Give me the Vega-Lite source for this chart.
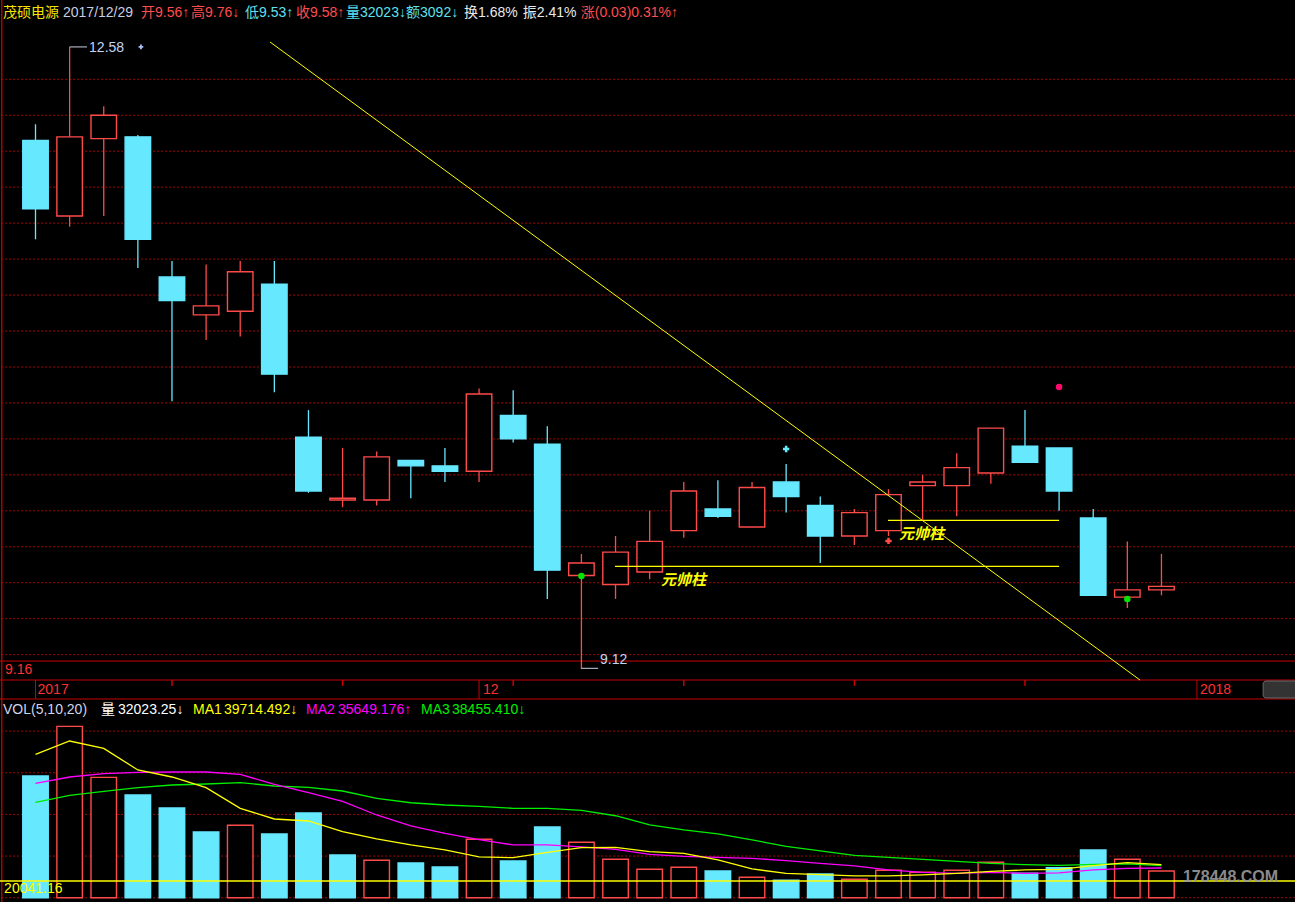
{
  "$schema": "https://vega.github.io/schema/vega-lite/v6.json",
  "width": 1295,
  "height": 902,
  "autosize": {"type": "none"},
  "padding": 0,
  "background": "#000000",
  "config": {
    "view": {"stroke": null},
    "axis": {"disable": true},
    "scale": {"continuousPadding": 0},
    "text": {"font": "Liberation Sans, Noto Sans CJK SC, sans-serif", "fontSize": 14, "align": "left", "baseline": "middle"}
  },
  "datasets": {
    "k": [
      {"i": 0, "date": "2017-11-14", "o": 12.06, "h": 12.15, "l": 11.51, "c": 11.68, "vol": 146100, "vdir": "down", "ma5": 172100, "ma10": 137300, "ma20": 114500},
      {"i": 1, "date": "2017-11-15", "o": 11.64, "h": 12.58, "l": 11.58, "c": 12.08, "vol": 205700, "vdir": "up", "ma5": 188100, "ma10": 144900, "ma20": 122900},
      {"i": 2, "date": "2017-11-16", "o": 12.07, "h": 12.25, "l": 11.64, "c": 12.20, "vol": 144500, "vdir": "up", "ma5": 179300, "ma10": 148900, "ma20": 127700},
      {"i": 3, "date": "2017-11-17", "o": 12.08, "h": 12.09, "l": 11.35, "c": 11.51, "vol": 123300, "vdir": "down", "ma5": 153300, "ma10": 150500, "ma20": 132100},
      {"i": 4, "date": "2017-11-20", "o": 11.30, "h": 11.39, "l": 10.61, "c": 11.17, "vol": 107700, "vdir": "down", "ma5": 144900, "ma10": 150900, "ma20": 135300},
      {"i": 5, "date": "2017-11-21", "o": 11.09, "h": 11.37, "l": 10.95, "c": 11.14, "vol": 78900, "vdir": "down", "ma5": 132100, "ma10": 150900, "ma20": 136500},
      {"i": 6, "date": "2017-11-22", "o": 11.11, "h": 11.39, "l": 10.97, "c": 11.33, "vol": 86900, "vdir": "up", "ma5": 107300, "ma10": 148100, "ma20": 138100},
      {"i": 7, "date": "2017-11-23", "o": 11.26, "h": 11.39, "l": 10.66, "c": 10.76, "vol": 76500, "vdir": "down", "ma5": 94500, "ma10": 136100, "ma20": 134100},
      {"i": 8, "date": "2017-11-24", "o": 10.41, "h": 10.56, "l": 10.10, "c": 10.11, "vol": 101700, "vdir": "down", "ma5": 92100, "ma10": 126100, "ma20": 132500},
      {"i": 9, "date": "2017-11-27", "o": 10.06, "h": 10.35, "l": 10.02, "c": 10.07, "vol": 51200, "vdir": "down", "ma5": 79200, "ma10": 115700, "ma20": 128100},
      {"i": 10, "date": "2017-11-28", "o": 10.06, "h": 10.33, "l": 10.03, "c": 10.30, "vol": 44900, "vdir": "up", "ma5": 70500, "ma10": 99300, "ma20": 119300},
      {"i": 11, "date": "2017-11-29", "o": 10.28, "h": 10.28, "l": 10.07, "c": 10.25, "vol": 41700, "vdir": "down", "ma5": 63300, "ma10": 86100, "ma20": 114000},
      {"i": 12, "date": "2017-11-30", "o": 10.25, "h": 10.35, "l": 10.16, "c": 10.22, "vol": 36800, "vdir": "down", "ma5": 57300, "ma10": 77300, "ma20": 111300},
      {"i": 13, "date": "2017-12-01", "o": 10.22, "h": 10.68, "l": 10.16, "c": 10.65, "vol": 70100, "vdir": "up", "ma5": 48900, "ma10": 69600, "ma20": 109700},
      {"i": 14, "date": "2017-12-04", "o": 10.53, "h": 10.67, "l": 10.38, "c": 10.40, "vol": 44100, "vdir": "down", "ma5": 48000, "ma10": 63300, "ma20": 107300},
      {"i": 15, "date": "2017-12-05", "o": 10.37, "h": 10.47, "l": 9.51, "c": 9.67, "vol": 84900, "vdir": "down", "ma5": 54500, "ma10": 63300, "ma20": 107300},
      {"i": 16, "date": "2017-12-06", "o": 9.64, "h": 9.76, "l": 9.12, "c": 9.71, "vol": 66500, "vdir": "up", "ma5": 60000, "ma10": 60900, "ma20": 104900},
      {"i": 17, "date": "2017-12-07", "o": 9.59, "h": 9.86, "l": 9.51, "c": 9.77, "vol": 46100, "vdir": "up", "ma5": 60500, "ma10": 58100, "ma20": 98400},
      {"i": 18, "date": "2017-12-08", "o": 9.66, "h": 10.00, "l": 9.62, "c": 9.83, "vol": 34100, "vdir": "up", "ma5": 55200, "ma10": 52100, "ma20": 87300},
      {"i": 19, "date": "2017-12-11", "o": 9.89, "h": 10.16, "l": 9.85, "c": 10.11, "vol": 36500, "vdir": "up", "ma5": 53300, "ma10": 49700, "ma20": 81300},
      {"i": 20, "date": "2017-12-12", "o": 10.01, "h": 10.17, "l": 9.96, "c": 9.97, "vol": 32100, "vdir": "down", "ma5": 45300, "ma10": 48500, "ma20": 76500},
      {"i": 21, "date": "2017-12-13", "o": 9.91, "h": 10.16, "l": 9.91, "c": 10.13, "vol": 24500, "vdir": "up", "ma5": 34500, "ma10": 47300, "ma20": 69300},
      {"i": 22, "date": "2017-12-14", "o": 10.16, "h": 10.26, "l": 9.99, "c": 10.08, "vol": 20900, "vdir": "down", "ma5": 29300, "ma10": 44400, "ma20": 61700},
      {"i": 23, "date": "2017-12-15", "o": 10.03, "h": 10.08, "l": 9.71, "c": 9.86, "vol": 28400, "vdir": "down", "ma5": 27600, "ma10": 41300, "ma20": 56100},
      {"i": 24, "date": "2017-12-18", "o": 9.86, "h": 10.01, "l": 9.81, "c": 9.99, "vol": 22100, "vdir": "up", "ma5": 26100, "ma10": 38300, "ma20": 50700},
      {"i": 25, "date": "2017-12-19", "o": 9.89, "h": 10.12, "l": 9.86, "c": 10.09, "vol": 32900, "vdir": "up", "ma5": 26100, "ma10": 33300, "ma20": 48500},
      {"i": 26, "date": "2017-12-20", "o": 10.14, "h": 10.20, "l": 9.95, "c": 10.16, "vol": 30500, "vdir": "up", "ma5": 27300, "ma10": 30500, "ma20": 46100},
      {"i": 27, "date": "2017-12-21", "o": 10.14, "h": 10.32, "l": 9.97, "c": 10.24, "vol": 32900, "vdir": "up", "ma5": 29300, "ma10": 29300, "ma20": 43700},
      {"i": 28, "date": "2017-12-22", "o": 10.21, "h": 10.46, "l": 10.15, "c": 10.46, "vol": 42500, "vdir": "up", "ma5": 31700, "ma10": 30500, "ma20": 41300},
      {"i": 29, "date": "2017-12-25", "o": 10.36, "h": 10.56, "l": 10.27, "c": 10.27, "vol": 29300, "vdir": "down", "ma5": 33300, "ma10": 29300, "ma20": 39700},
      {"i": 30, "date": "2017-12-26", "o": 10.35, "h": 10.35, "l": 10.00, "c": 10.11, "vol": 36000, "vdir": "down", "ma5": 34100, "ma10": 29700, "ma20": 38900},
      {"i": 31, "date": "2017-12-27", "o": 9.96, "h": 10.01, "l": 9.53, "c": 9.53, "vol": 57200, "vdir": "down", "ma5": 38500, "ma10": 33300, "ma20": 40100},
      {"i": 32, "date": "2017-12-28", "o": 9.52, "h": 9.83, "l": 9.46, "c": 9.56, "vol": 46100, "vdir": "up", "ma5": 42100, "ma10": 35300, "ma20": 40500},
      {"i": 33, "date": "2017-12-29", "o": 9.56, "h": 9.76, "l": 9.53, "c": 9.58, "vol": 32023.25, "vdir": "up", "ma5": 39714.492, "ma10": 35649.176, "ma20": 38455.41}
    ]
  },
  "data": {"values": [{}]},
  "resolve": {"scale": {"y": "independent"}},
  "layer": [
    {
      "layer": [
        {
          "data": {"values": [{"p": 12.4}, {"p": 12.2}, {"p": 12.0}, {"p": 11.8}, {"p": 11.6}, {"p": 11.4}, {"p": 11.2}, {"p": 11.0}, {"p": 10.8}, {"p": 10.6}, {"p": 10.4}, {"p": 10.2}, {"p": 10.0}, {"p": 9.8}, {"p": 9.6}, {"p": 9.4}, {"p": 9.2}]},
          "mark": {"type": "rule", "color": "#a40000", "strokeWidth": 1, "strokeDash": [2, 2]},
          "encoding": {"y": {"field": "p", "type": "quantitative", "scale": {"domain": [7.8243, 12.841], "nice": false, "zero": false, "padding": 0}}}
        },
        {
          "data": {"values": [{"p": 9.1643}, {"p": 9.059}, {"p": 8.9534}]},
          "mark": {"type": "rule", "color": "#c80000", "strokeWidth": 1},
          "encoding": {"y": {"field": "p", "type": "quantitative", "scale": {"domain": [7.8243, 12.841], "nice": false, "zero": false, "padding": 0}}}
        },
        {
          "mark": {"type": "rule", "color": "#b00000", "strokeWidth": 1.5},
          "encoding": {"x": {"datum": -0.99, "type": "quantitative", "scale": {"domain": [-1.0405, 36.914], "nice": false, "zero": false, "padding": 0}}}
        },
        {
          "data": {"values": [{"t": 4}, {"t": 9}, {"t": 14}, {"t": 19}, {"t": 24}, {"t": 29}]},
          "mark": {"type": "rule", "color": "#c80000", "strokeWidth": 1.5},
          "encoding": {
            "x": {"field": "t", "type": "quantitative", "scale": {"domain": [-1.0405, 36.914], "nice": false, "zero": false, "padding": 0}},
            "y": {"datum": 9.059, "type": "quantitative", "scale": {"domain": [7.8243, 12.841], "nice": false, "zero": false, "padding": 0}},
            "y2": {"datum": 9.026}
          }
        },
        {
          "data": {"values": [{"t": 0}, {"t": 13}, {"t": 34.04}]},
          "mark": {"type": "rule", "color": "#c80000", "strokeWidth": 1},
          "encoding": {
            "x": {"field": "t", "type": "quantitative", "scale": {"domain": [-1.0405, 36.914], "nice": false, "zero": false, "padding": 0}},
            "y": {"datum": 9.059, "type": "quantitative", "scale": {"domain": [7.8243, 12.841], "nice": false, "zero": false, "padding": 0}},
            "y2": {"datum": 8.9534}
          }
        },
        {
          "mark": {"type": "rect", "fill": "#333333", "stroke": "#6a6a6a", "strokeWidth": 1, "cornerRadius": 3},
          "encoding": {
            "x": {"datum": 35.98, "type": "quantitative", "scale": {"domain": [-1.0405, 36.914], "nice": false, "zero": false, "padding": 0}},
            "x2": {"datum": 37.2},
            "y": {"datum": 9.0534, "type": "quantitative", "scale": {"domain": [7.8243, 12.841], "nice": false, "zero": false, "padding": 0}},
            "y2": {"datum": 8.959}
          }
        },
        {
          "data": {"name": "k"},
          "mark": {"type": "rule", "strokeWidth": 1.3},
          "encoding": {
            "x": {"field": "i", "type": "quantitative", "scale": {"domain": [-1.0405, 36.914], "nice": false, "zero": false, "padding": 0}},
            "y": {"field": "l", "type": "quantitative", "scale": {"domain": [7.8243, 12.841], "nice": false, "zero": false, "padding": 0}},
            "y2": {"field": "h"},
            "color": {"condition": {"test": "datum.c >= datum.o", "value": "#ff4a4a"}, "value": "#66e8ff"}
          }
        },
        {
          "data": {"name": "k"},
          "mark": {"type": "bar", "width": 25.5, "strokeWidth": 1.4},
          "encoding": {
            "x": {"field": "i", "type": "quantitative", "scale": {"domain": [-1.0405, 36.914], "nice": false, "zero": false, "padding": 0}},
            "y": {"field": "o", "type": "quantitative", "scale": {"domain": [7.8243, 12.841], "nice": false, "zero": false, "padding": 0}},
            "y2": {"field": "c"},
            "fill": {"condition": {"test": "datum.c >= datum.o", "value": "#000000"}, "value": "#66e8ff"},
            "stroke": {"condition": {"test": "datum.c >= datum.o", "value": "#ff4a4a"}, "value": "#66e8ff"}
          }
        },
        {
          "mark": {"type": "rule", "color": "#c8d0e0", "strokeWidth": 1},
          "encoding": {
            "x": {"datum": 1.0, "type": "quantitative", "scale": {"domain": [-1.0405, 36.914], "nice": false, "zero": false, "padding": 0}},
            "x2": {"datum": 1.51},
            "y": {"datum": 12.58, "type": "quantitative", "scale": {"domain": [7.8243, 12.841], "nice": false, "zero": false, "padding": 0}}
          }
        },
        {
          "mark": {"type": "text", "text": "12.58", "color": "#c4d4f4", "fontSize": 14},
          "encoding": {
            "x": {"datum": 1.57, "type": "quantitative", "scale": {"domain": [-1.0405, 36.914], "nice": false, "zero": false, "padding": 0}},
            "y": {"datum": 12.575, "type": "quantitative", "scale": {"domain": [7.8243, 12.841], "nice": false, "zero": false, "padding": 0}}
          }
        },
        {
          "mark": {"type": "point", "shape": "cross", "filled": true, "size": 22, "color": "#a8bcf0", "opacity": 1},
          "encoding": {
            "x": {"datum": 3.09, "type": "quantitative", "scale": {"domain": [-1.0405, 36.914], "nice": false, "zero": false, "padding": 0}},
            "y": {"datum": 12.58, "type": "quantitative", "scale": {"domain": [7.8243, 12.841], "nice": false, "zero": false, "padding": 0}}
          }
        },
        {
          "mark": {"type": "rule", "color": "#c8d0e0", "strokeWidth": 1},
          "encoding": {
            "x": {"datum": 16.0, "type": "quantitative", "scale": {"domain": [-1.0405, 36.914], "nice": false, "zero": false, "padding": 0}},
            "x2": {"datum": 16.49},
            "y": {"datum": 9.124, "type": "quantitative", "scale": {"domain": [7.8243, 12.841], "nice": false, "zero": false, "padding": 0}}
          }
        },
        {
          "mark": {"type": "text", "text": "9.12", "color": "#c4d4f4", "fontSize": 14},
          "encoding": {
            "x": {"datum": 16.545, "type": "quantitative", "scale": {"domain": [-1.0405, 36.914], "nice": false, "zero": false, "padding": 0}},
            "y": {"datum": 9.17, "type": "quantitative", "scale": {"domain": [7.8243, 12.841], "nice": false, "zero": false, "padding": 0}}
          }
        },
        {
          "data": {"values": [{"tx": 6.873, "tp": 12.6075}, {"tx": 32.37, "tp": 9.059}]},
          "mark": {"type": "line", "color": "#ffff00", "strokeWidth": 1},
          "encoding": {
            "x": {"field": "tx", "type": "quantitative", "scale": {"domain": [-1.0405, 36.914], "nice": false, "zero": false, "padding": 0}},
            "y": {"field": "tp", "type": "quantitative", "scale": {"domain": [7.8243, 12.841], "nice": false, "zero": false, "padding": 0}}
          }
        },
        {
          "data": {"values": [{"x1": 16.984, "x2": 30.0, "lp": 9.6914}, {"x1": 24.985, "x2": 30.0, "lp": 9.9473}]},
          "mark": {"type": "rule", "color": "#ffff00", "strokeWidth": 1.3},
          "encoding": {
            "x": {"field": "x1", "type": "quantitative", "scale": {"domain": [-1.0405, 36.914], "nice": false, "zero": false, "padding": 0}},
            "x2": {"field": "x2"},
            "y": {"field": "lp", "type": "quantitative", "scale": {"domain": [7.8243, 12.841], "nice": false, "zero": false, "padding": 0}}
          }
        },
        {
          "mark": {"type": "text", "text": "元帅柱", "color": "#ffff00", "fontSize": 15, "fontWeight": "bold", "fontStyle": "italic", "font": "Noto Sans CJK SC"},
          "encoding": {
            "x": {"datum": 18.332, "type": "quantitative", "scale": {"domain": [-1.0405, 36.914], "nice": false, "zero": false, "padding": 0}},
            "y": {"datum": 9.6152, "type": "quantitative", "scale": {"domain": [7.8243, 12.841], "nice": false, "zero": false, "padding": 0}}
          }
        },
        {
          "mark": {"type": "text", "text": "元帅柱", "color": "#ffff00", "fontSize": 15, "fontWeight": "bold", "fontStyle": "italic", "font": "Noto Sans CJK SC"},
          "encoding": {
            "x": {"datum": 25.308, "type": "quantitative", "scale": {"domain": [-1.0405, 36.914], "nice": false, "zero": false, "padding": 0}},
            "y": {"datum": 9.8711, "type": "quantitative", "scale": {"domain": [7.8243, 12.841], "nice": false, "zero": false, "padding": 0}}
          }
        },
        {
          "mark": {"type": "point", "shape": "circle", "filled": true, "size": 42, "color": "#ff0a6c", "opacity": 1},
          "encoding": {
            "x": {"datum": 30, "type": "quantitative", "scale": {"domain": [-1.0405, 36.914], "nice": false, "zero": false, "padding": 0}},
            "y": {"datum": 10.6886, "type": "quantitative", "scale": {"domain": [7.8243, 12.841], "nice": false, "zero": false, "padding": 0}}
          }
        },
        {
          "data": {"values": [{"mi": 16, "mp": 9.6375}, {"mi": 32, "mp": 9.5096}]},
          "mark": {"type": "point", "shape": "circle", "filled": true, "size": 42, "color": "#00e600", "opacity": 1},
          "encoding": {
            "x": {"field": "mi", "type": "quantitative", "scale": {"domain": [-1.0405, 36.914], "nice": false, "zero": false, "padding": 0}},
            "y": {"field": "mp", "type": "quantitative", "scale": {"domain": [7.8243, 12.841], "nice": false, "zero": false, "padding": 0}}
          }
        },
        {
          "mark": {"type": "point", "shape": "cross", "filled": true, "size": 40, "color": "#66e8ff", "opacity": 1},
          "encoding": {
            "x": {"datum": 22, "type": "quantitative", "scale": {"domain": [-1.0405, 36.914], "nice": false, "zero": false, "padding": 0}},
            "y": {"datum": 10.3437, "type": "quantitative", "scale": {"domain": [7.8243, 12.841], "nice": false, "zero": false, "padding": 0}}
          }
        },
        {
          "mark": {"type": "point", "shape": "cross", "filled": true, "size": 40, "color": "#ff4a4a", "opacity": 1},
          "encoding": {
            "x": {"datum": 25, "type": "quantitative", "scale": {"domain": [-1.0405, 36.914], "nice": false, "zero": false, "padding": 0}},
            "y": {"datum": 9.8327, "type": "quantitative", "scale": {"domain": [7.8243, 12.841], "nice": false, "zero": false, "padding": 0}}
          }
        },
        {"mark": {"type": "text", "text": "9.16", "color": "#ff3030"}, "encoding": {"x": {"datum": -0.894, "type": "quantitative", "scale": {"domain": [-1.0405, 36.914], "nice": false, "zero": false, "padding": 0}}, "y": {"datum": 9.112, "type": "quantitative", "scale": {"domain": [7.8243, 12.841], "nice": false, "zero": false, "padding": 0}}}},
        {"mark": {"type": "text", "text": "2017", "color": "#ff3030"}, "encoding": {"x": {"datum": 0.06, "type": "quantitative", "scale": {"domain": [-1.0405, 36.914], "nice": false, "zero": false, "padding": 0}}, "y": {"datum": 9.006, "type": "quantitative", "scale": {"domain": [7.8243, 12.841], "nice": false, "zero": false, "padding": 0}}}},
        {"mark": {"type": "text", "text": "12", "color": "#ff3030"}, "encoding": {"x": {"datum": 13.115, "type": "quantitative", "scale": {"domain": [-1.0405, 36.914], "nice": false, "zero": false, "padding": 0}}, "y": {"datum": 9.006, "type": "quantitative", "scale": {"domain": [7.8243, 12.841], "nice": false, "zero": false, "padding": 0}}}},
        {"mark": {"type": "text", "text": "2018", "color": "#ff3030"}, "encoding": {"x": {"datum": 34.13, "type": "quantitative", "scale": {"domain": [-1.0405, 36.914], "nice": false, "zero": false, "padding": 0}}, "y": {"datum": 9.006, "type": "quantitative", "scale": {"domain": [7.8243, 12.841], "nice": false, "zero": false, "padding": 0}}}},
        {"mark": {"type": "text", "text": "茂硕电源", "color": "#f5e400"}, "encoding": {"x": {"datum": -0.9525, "type": "quantitative", "scale": {"domain": [-1.0405, 36.914], "nice": false, "zero": false, "padding": 0}}, "y": {"datum": 12.769, "type": "quantitative", "scale": {"domain": [7.8243, 12.841], "nice": false, "zero": false, "padding": 0}}}},
        {"mark": {"type": "text", "text": "2017/12/29", "color": "#c8cde0"}, "encoding": {"x": {"datum": 0.806, "type": "quantitative", "scale": {"domain": [-1.0405, 36.914], "nice": false, "zero": false, "padding": 0}}, "y": {"datum": 12.769, "type": "quantitative", "scale": {"domain": [7.8243, 12.841], "nice": false, "zero": false, "padding": 0}}}},
        {"mark": {"type": "text", "text": "开9.56↑", "color": "#ff4d4d"}, "encoding": {"x": {"datum": 3.092, "type": "quantitative", "scale": {"domain": [-1.0405, 36.914], "nice": false, "zero": false, "padding": 0}}, "y": {"datum": 12.769, "type": "quantitative", "scale": {"domain": [7.8243, 12.841], "nice": false, "zero": false, "padding": 0}}}},
        {"mark": {"type": "text", "text": "高9.76↓", "color": "#ff4d4d"}, "encoding": {"x": {"datum": 4.557, "type": "quantitative", "scale": {"domain": [-1.0405, 36.914], "nice": false, "zero": false, "padding": 0}}, "y": {"datum": 12.769, "type": "quantitative", "scale": {"domain": [7.8243, 12.841], "nice": false, "zero": false, "padding": 0}}}},
        {"mark": {"type": "text", "text": "低9.53↑", "color": "#5ee0f0"}, "encoding": {"x": {"datum": 6.14, "type": "quantitative", "scale": {"domain": [-1.0405, 36.914], "nice": false, "zero": false, "padding": 0}}, "y": {"datum": 12.769, "type": "quantitative", "scale": {"domain": [7.8243, 12.841], "nice": false, "zero": false, "padding": 0}}}},
        {"mark": {"type": "text", "text": "收9.58↑", "color": "#ff4d4d"}, "encoding": {"x": {"datum": 7.635, "type": "quantitative", "scale": {"domain": [-1.0405, 36.914], "nice": false, "zero": false, "padding": 0}}, "y": {"datum": 12.769, "type": "quantitative", "scale": {"domain": [7.8243, 12.841], "nice": false, "zero": false, "padding": 0}}}},
        {"mark": {"type": "text", "text": "量32023↓", "color": "#5ee0f0"}, "encoding": {"x": {"datum": 9.1, "type": "quantitative", "scale": {"domain": [-1.0405, 36.914], "nice": false, "zero": false, "padding": 0}}, "y": {"datum": 12.769, "type": "quantitative", "scale": {"domain": [7.8243, 12.841], "nice": false, "zero": false, "padding": 0}}}},
        {"mark": {"type": "text", "text": "额3092↓", "color": "#5ee0f0"}, "encoding": {"x": {"datum": 10.86, "type": "quantitative", "scale": {"domain": [-1.0405, 36.914], "nice": false, "zero": false, "padding": 0}}, "y": {"datum": 12.769, "type": "quantitative", "scale": {"domain": [7.8243, 12.841], "nice": false, "zero": false, "padding": 0}}}},
        {"mark": {"type": "text", "text": "换1.68%", "color": "#e8e8e8"}, "encoding": {"x": {"datum": 12.56, "type": "quantitative", "scale": {"domain": [-1.0405, 36.914], "nice": false, "zero": false, "padding": 0}}, "y": {"datum": 12.769, "type": "quantitative", "scale": {"domain": [7.8243, 12.841], "nice": false, "zero": false, "padding": 0}}}},
        {"mark": {"type": "text", "text": "振2.41%", "color": "#e8e8e8"}, "encoding": {"x": {"datum": 14.28, "type": "quantitative", "scale": {"domain": [-1.0405, 36.914], "nice": false, "zero": false, "padding": 0}}, "y": {"datum": 12.769, "type": "quantitative", "scale": {"domain": [7.8243, 12.841], "nice": false, "zero": false, "padding": 0}}}},
        {"mark": {"type": "text", "text": "涨(0.03)0.31%↑", "color": "#ff4d4d"}, "encoding": {"x": {"datum": 15.98, "type": "quantitative", "scale": {"domain": [-1.0405, 36.914], "nice": false, "zero": false, "padding": 0}}, "y": {"datum": 12.769, "type": "quantitative", "scale": {"domain": [7.8243, 12.841], "nice": false, "zero": false, "padding": 0}}}}
      ]
    },
    {
      "layer": [
        {
          "data": {"values": [{"v": 0}, {"v": 50000}, {"v": 100000}, {"v": 150000}, {"v": 200000}]},
          "mark": {"type": "rule", "color": "#a40000", "strokeWidth": 1, "strokeDash": [2, 2]},
          "encoding": {"y": {"field": "v", "type": "quantitative", "scale": {"domain": [-5162, 1077689], "nice": false, "zero": false, "padding": 0}}}
        },
        {
          "data": {"name": "k"},
          "mark": {"type": "bar", "width": 25.5, "strokeWidth": 1.4},
          "encoding": {
            "x": {"field": "i", "type": "quantitative", "scale": {"domain": [-1.0405, 36.914], "nice": false, "zero": false, "padding": 0}},
            "y": {"field": "vol", "type": "quantitative", "scale": {"domain": [-5162, 1077689], "nice": false, "zero": false, "padding": 0}},
            "y2": {"datum": 0},
            "fill": {"condition": {"test": "datum.vdir == 'up'", "value": "#000000"}, "value": "#66e8ff"},
            "stroke": {"condition": {"test": "datum.vdir == 'up'", "value": "#ff4a4a"}, "value": "#66e8ff"}
          }
        },
        {
          "data": {"name": "k"},
          "mark": {"type": "line", "color": "#00ee00", "strokeWidth": 1.3},
          "encoding": {
            "x": {"field": "i", "type": "quantitative", "scale": {"domain": [-1.0405, 36.914], "nice": false, "zero": false, "padding": 0}},
            "y": {"field": "ma20", "type": "quantitative", "scale": {"domain": [-5162, 1077689], "nice": false, "zero": false, "padding": 0}}
          }
        },
        {
          "data": {"name": "k"},
          "mark": {"type": "line", "color": "#ff00ff", "strokeWidth": 1.3},
          "encoding": {
            "x": {"field": "i", "type": "quantitative", "scale": {"domain": [-1.0405, 36.914], "nice": false, "zero": false, "padding": 0}},
            "y": {"field": "ma10", "type": "quantitative", "scale": {"domain": [-5162, 1077689], "nice": false, "zero": false, "padding": 0}}
          }
        },
        {
          "data": {"name": "k"},
          "mark": {"type": "line", "color": "#ffff00", "strokeWidth": 1.3},
          "encoding": {
            "x": {"field": "i", "type": "quantitative", "scale": {"domain": [-1.0405, 36.914], "nice": false, "zero": false, "padding": 0}},
            "y": {"field": "ma5", "type": "quantitative", "scale": {"domain": [-5162, 1077689], "nice": false, "zero": false, "padding": 0}}
          }
        },
        {
          "mark": {"type": "rule", "color": "#ffff00", "strokeWidth": 1.6},
          "encoding": {"y": {"datum": 20041.16, "type": "quantitative", "scale": {"domain": [-5162, 1077689], "nice": false, "zero": false, "padding": 0}}}
        },
        {"mark": {"type": "text", "text": "20041.16", "color": "#ffff00"}, "encoding": {"x": {"datum": -0.92, "type": "quantitative", "scale": {"domain": [-1.0405, 36.914], "nice": false, "zero": false, "padding": 0}}, "y": {"datum": 10400, "type": "quantitative", "scale": {"domain": [-5162, 1077689], "nice": false, "zero": false, "padding": 0}}}},
        {"mark": {"type": "text", "text": "178448.COM", "color": "#999999", "fontSize": 16, "fontWeight": "bold", "font": "Liberation Sans", "opacity": 0.9}, "encoding": {"x": {"datum": 33.63, "type": "quantitative", "scale": {"domain": [-1.0405, 36.914], "nice": false, "zero": false, "padding": 0}}, "y": {"datum": 24850, "type": "quantitative", "scale": {"domain": [-5162, 1077689], "nice": false, "zero": false, "padding": 0}}}},
        {"mark": {"type": "text", "text": "VOL(5,10,20)", "color": "#d0d4e8"}, "encoding": {"x": {"datum": -0.9525, "type": "quantitative", "scale": {"domain": [-1.0405, 36.914], "nice": false, "zero": false, "padding": 0}}, "y": {"datum": 225334, "type": "quantitative", "scale": {"domain": [-5162, 1077689], "nice": false, "zero": false, "padding": 0}}}},
        {"mark": {"type": "text", "text": "量", "color": "#ffffff"}, "encoding": {"x": {"datum": 1.92, "type": "quantitative", "scale": {"domain": [-1.0405, 36.914], "nice": false, "zero": false, "padding": 0}}, "y": {"datum": 225334, "type": "quantitative", "scale": {"domain": [-5162, 1077689], "nice": false, "zero": false, "padding": 0}}}},
        {"mark": {"type": "text", "text": "32023.25↓", "color": "#ffffff"}, "encoding": {"x": {"datum": 2.418, "type": "quantitative", "scale": {"domain": [-1.0405, 36.914], "nice": false, "zero": false, "padding": 0}}, "y": {"datum": 225334, "type": "quantitative", "scale": {"domain": [-5162, 1077689], "nice": false, "zero": false, "padding": 0}}}},
        {"mark": {"type": "text", "text": "MA1", "color": "#ffff00"}, "encoding": {"x": {"datum": 4.616, "type": "quantitative", "scale": {"domain": [-1.0405, 36.914], "nice": false, "zero": false, "padding": 0}}, "y": {"datum": 225334, "type": "quantitative", "scale": {"domain": [-5162, 1077689], "nice": false, "zero": false, "padding": 0}}}},
        {"mark": {"type": "text", "text": "39714.492↓", "color": "#ffff00"}, "encoding": {"x": {"datum": 5.525, "type": "quantitative", "scale": {"domain": [-1.0405, 36.914], "nice": false, "zero": false, "padding": 0}}, "y": {"datum": 225334, "type": "quantitative", "scale": {"domain": [-5162, 1077689], "nice": false, "zero": false, "padding": 0}}}},
        {"mark": {"type": "text", "text": "MA2", "color": "#ff00ff"}, "encoding": {"x": {"datum": 7.928, "type": "quantitative", "scale": {"domain": [-1.0405, 36.914], "nice": false, "zero": false, "padding": 0}}, "y": {"datum": 225334, "type": "quantitative", "scale": {"domain": [-5162, 1077689], "nice": false, "zero": false, "padding": 0}}}},
        {"mark": {"type": "text", "text": "35649.176↑", "color": "#ff00ff"}, "encoding": {"x": {"datum": 8.866, "type": "quantitative", "scale": {"domain": [-1.0405, 36.914], "nice": false, "zero": false, "padding": 0}}, "y": {"datum": 225334, "type": "quantitative", "scale": {"domain": [-5162, 1077689], "nice": false, "zero": false, "padding": 0}}}},
        {"mark": {"type": "text", "text": "MA3", "color": "#00ee00"}, "encoding": {"x": {"datum": 11.299, "type": "quantitative", "scale": {"domain": [-1.0405, 36.914], "nice": false, "zero": false, "padding": 0}}, "y": {"datum": 225334, "type": "quantitative", "scale": {"domain": [-5162, 1077689], "nice": false, "zero": false, "padding": 0}}}},
        {"mark": {"type": "text", "text": "38455.410↓", "color": "#00ee00"}, "encoding": {"x": {"datum": 12.208, "type": "quantitative", "scale": {"domain": [-1.0405, 36.914], "nice": false, "zero": false, "padding": 0}}, "y": {"datum": 225334, "type": "quantitative", "scale": {"domain": [-5162, 1077689], "nice": false, "zero": false, "padding": 0}}}}
      ]
    }
  ]
}
